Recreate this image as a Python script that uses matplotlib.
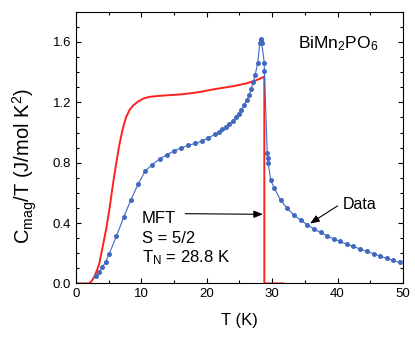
import matplotlib
matplotlib.use("Agg")
import matplotlib.pyplot as plt
from matplotlib.ticker import MultipleLocator

plt.rcParams["font.family"] = ["Liberation Sans", "DejaVu Sans"]
plt.rcParams["mathtext.fontset"] = "custom"
plt.rcParams["mathtext.rm"] = "Liberation Sans"
plt.rcParams["mathtext.it"] = "Liberation Sans"
plt.rcParams["mathtext.default"] = "regular"

# measured C_mag/T (blue points)
T_data = [3.06, 3.57, 4.03, 4.54, 5.05, 6.17, 7.29, 8.36, 9.48, 10.6, 11.7,
          12.8, 13.95, 15.0, 16.1, 17.15, 18.2, 19.2, 20.2, 21.25, 21.9, 22.4,
          22.9, 23.4, 23.97, 24.5, 24.9, 25.3, 25.7, 26.1, 26.5, 26.8, 27.1,
          27.4, 27.8, 28.1, 28.25, 28.3, 28.4, 28.8, 28.8, 29.25, 29.3, 29.4,
          29.77, 30.3, 31.3, 32.3, 33.3, 34.36, 35.4, 36.35, 37.4, 38.4, 39.4,
          40.4, 41.4, 42.4, 43.4, 44.45, 45.5, 46.5, 47.5, 48.5, 49.5]
C_data = [0.050, 0.073, 0.106, 0.143, 0.192, 0.311, 0.437, 0.550, 0.656, 0.746,
          0.788, 0.825, 0.854, 0.878, 0.898, 0.914, 0.928, 0.942, 0.964, 0.987,
          1.004, 1.020, 1.037, 1.055, 1.077, 1.100, 1.126, 1.152, 1.180, 1.214,
          1.247, 1.290, 1.335, 1.380, 1.463, 1.590, 1.605, 1.618, 1.590, 1.463,
          1.410, 0.861, 0.828, 0.800, 0.684, 0.633, 0.552, 0.497, 0.454, 0.419,
          0.388, 0.362, 0.338, 0.315, 0.295, 0.278, 0.260, 0.245, 0.229, 0.212,
          0.196, 0.181, 0.166, 0.152, 0.139]

# mean-field theory curve (red)
T_mft = [0.0, 2.0, 2.4, 2.8, 3.2, 3.57, 4.08, 4.59, 5.1, 5.6, 6.1, 6.6, 7.1,
         7.65, 8.2, 8.77, 9.5, 10.3, 11.2, 12.5, 14.0, 15.9, 17.5, 19.0, 20.5,
         22.0, 24.05, 26.0, 27.5, 28.8, 28.8, 31.6]
C_mft = [0.0, 0.0, 0.015, 0.044, 0.085, 0.132, 0.242, 0.353, 0.485, 0.64,
         0.78, 0.91, 1.015, 1.10, 1.15, 1.18, 1.205, 1.225, 1.236, 1.242,
         1.247, 1.252, 1.260, 1.269, 1.282, 1.293, 1.307, 1.325, 1.345, 1.37,
         0.0, 0.0]

BLUE = "#4169c0"
RED = "#ff2020"
ARROW = dict(arrowstyle="-|>,head_length=0.55,head_width=0.22", color="black",
             lw=0.8, shrinkA=0, shrinkB=0)

fig = plt.figure(figsize=(4.15, 3.37), dpi=100)
ax = fig.add_axes([0.183, 0.159, 0.788, 0.806])

ax.plot(T_mft, C_mft, color=RED, linewidth=1.4, zorder=2)
ax.plot(T_data, C_data, color=BLUE, linewidth=0.8, marker="o",
        markersize=3.6, markeredgewidth=0, zorder=3)

ax.set_xlim(0, 50)
ax.set_ylim(0, 1.8)
ax.xaxis.set_major_locator(MultipleLocator(10))
ax.xaxis.set_minor_locator(MultipleLocator(5))
ax.yaxis.set_major_locator(MultipleLocator(0.4))
ax.yaxis.set_minor_locator(MultipleLocator(0.1))
ax.yaxis.set_major_formatter(plt.FuncFormatter(lambda v, p: f"{v:.1f}"))
ax.tick_params(which="both", direction="in", top=True, right=True,
               labelsize=9.5, width=0.8)
ax.tick_params(which="major", length=3.6)
ax.tick_params(which="minor", length=2.2)
for sp in ax.spines.values():
    sp.set_linewidth(0.8)

ax.set_xlabel("T (K)", fontsize=12, labelpad=9)
ax.set_ylabel("C$_{mag}$/T (J/mol K$^2$)", fontsize=14.5)
ax.yaxis.set_label_coords(-0.112, 0.433)

ax.text(0.68, 0.865, "BiMn$_2$PO$_6$", transform=ax.transAxes, fontsize=12.5)

ax.text(10.1, 0.40, "MFT", fontsize=12, va="baseline")
ax.text(10.1, 0.265, "S = 5/2", fontsize=12, va="baseline")
ax.text(10.1, 0.143, "T$_N$ = 28.8 K", fontsize=12, va="baseline")
ax.annotate("", xy=(28.6, 0.458), xytext=(16.7, 0.462), arrowprops=ARROW)

ax.text(40.8, 0.49, "Data", fontsize=11.5, va="baseline")
ax.annotate("", xy=(35.8, 0.397), xytext=(40.0, 0.514), arrowprops=ARROW)

fig.savefig("out.png", dpi=100)
